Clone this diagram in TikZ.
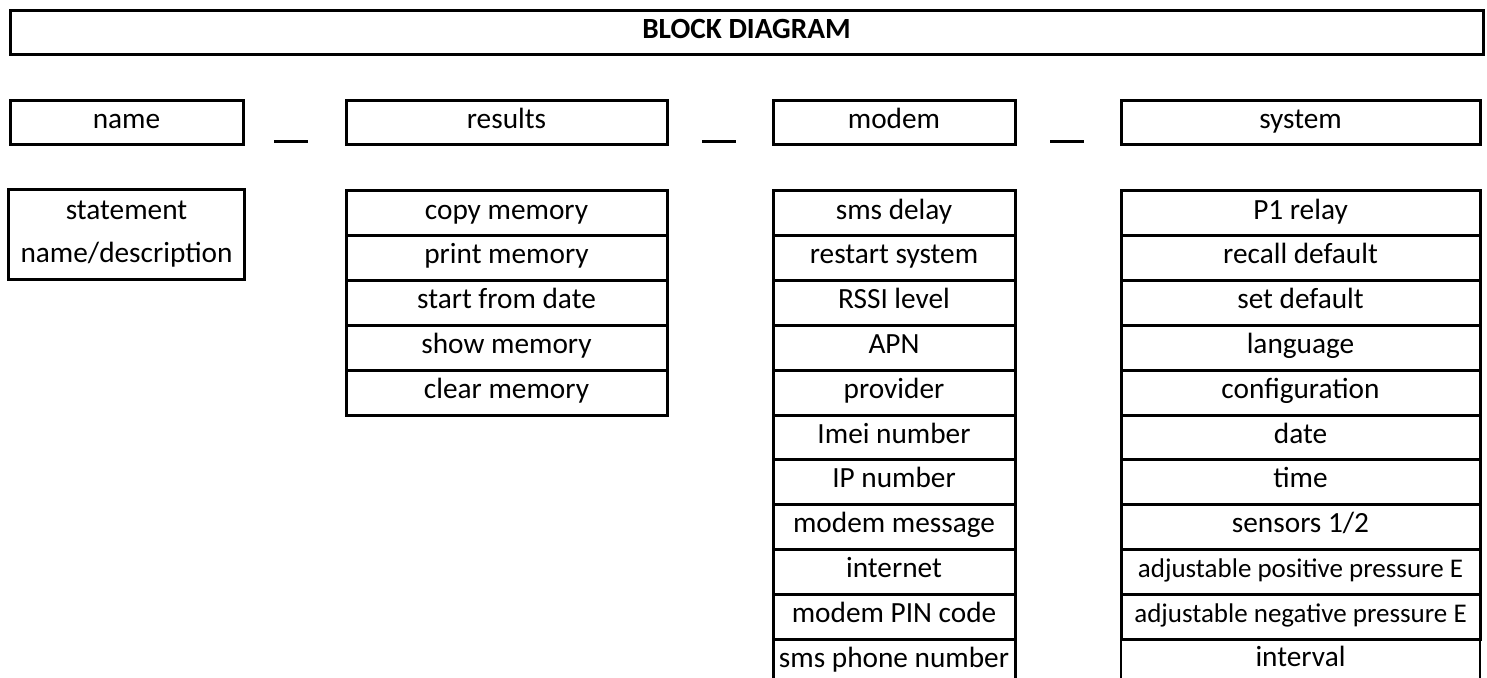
\documentclass[tikz,border=0pt]{standalone}
\usepackage{fontspec}
\setmainfont{Carlito}
\usetikzlibrary{fit}
\begin{document}
\begin{tikzpicture}[x=0.5pt,y=-0.5pt,
  cell/.style={draw, line width=1.5pt, rectangle, anchor=north west, inner sep=0pt,
    minimum height=22.4pt, text height=8.5pt, text depth=2.8pt,
    font=\fontsize{14.65}{17}\selectfont, align=center},
  smalltext/.style={font=\fontsize{13.5}{16}\selectfont},
  dashline/.style={line width=1.5pt},
  namecol/.style={cell, minimum width=116.5pt},
  rescol/.style={cell, minimum width=160.5pt},
  modcol/.style={cell, minimum width=121pt},
  syscol/.style={cell, minimum width=179.5pt}]
\useasboundingbox (0,0) rectangle (1487,678);
% title
\node[cell, minimum width=736.5pt, minimum height=22pt] (title) at (8.5,9.5) {\textbf{BLOCK DIAGRAM}};
% headers
\node[namecol, minimum height=22pt] (hname) at (8.5,99.5) {name};
\node[rescol, minimum height=22pt] (hres) at (344.5,99.5) {results};
\node[modcol, minimum height=22pt] (hmod) at (771.5,99.5) {modem};
\node[syscol, minimum height=22pt] (hsys) at (1119.5,99.5) {system};
% dashes between headers
\coordinate (d1a) at (274,142); \coordinate (d1b) at (308,142);
\coordinate (d2a) at (702,142); \coordinate (d2b) at (736,142);
\coordinate (d3a) at (1050,142); \coordinate (d3b) at (1084,142);
\draw[dashline] (d1a) -- (d1b);
\draw[dashline] (d2a) -- (d2b);
\draw[dashline] (d3a) -- (d3b);
% name column
\node[namecol, draw=none] (stmt1) at (8.5,189.5) {statement};
\node[namecol, draw=none, minimum height=21pt] (stmt2) at (8.5,{189.5+44.8}) {name/description};
\node[draw, line width=1.5pt, inner sep=0pt, fit=(stmt1)(stmt2)] (stmt) {};
% results column
\foreach \t [count=\i] in {copy memory, print memory, start from date, show memory, clear memory}
  \node[rescol] (res\i) at (344.5,{189.5+(\i-1)*44.8}) {\t};
% modem column
\foreach \t [count=\i] in {sms delay, restart system, RSSI level, APN, provider, Imei number, IP number, modem message, internet, modem PIN code, sms phone number}
  \node[modcol] (mod\i) at (771.5,{189.5+(\i-1)*44.8}) {\t};
% system column
\foreach \t [count=\i] in {P1 relay, recall default, set default, language, configuration, date, time, sensors 1/2}
  \node[syscol] (sys\i) at (1119.5,{189.5+(\i-1)*44.8}) {\t};
\node[syscol, smalltext] (sys9) at (1119.5,{189.5+8*44.8}) {adjustable positive pressure E};
\node[syscol, smalltext] (sys10) at (1119.5,{189.5+9*44.8}) {adjustable negative pressure E};
\node[syscol, line width=1pt] (sys11) at (1120,{189.5+10*44.8}) {interval};
\end{tikzpicture}
\end{document}
